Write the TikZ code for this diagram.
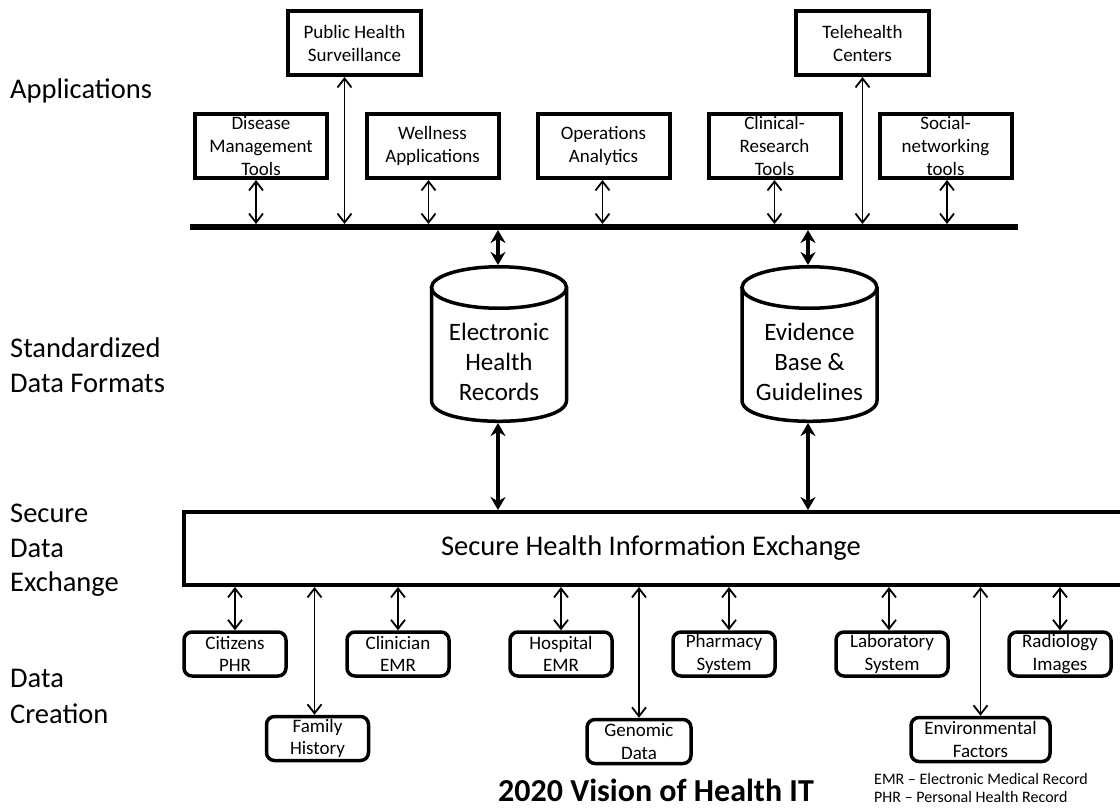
\documentclass[tikz,border=0pt]{standalone}
\usepackage{fontspec}
\setmainfont{Carlito}
\usetikzlibrary{arrows.meta}
\tikzset{
  appbox/.style={draw, line width=4pt, fill=white, inner sep=0pt, align=center,
    font=\fontsize{19}{23}\selectfont, minimum width=132pt, minimum height=64pt},
  databox/.style={draw, line width=3.5pt, rounded corners=8pt, fill=white, inner sep=0pt, align=center,
    font=\fontsize{19}{22.5}\selectfont, minimum width=102pt, minimum height=44pt},
  thinarrow/.style={line width=1.8pt, {Straight Barb[length=9pt,width=14pt]}-{Straight Barb[length=9pt,width=14pt]}},
  thickarrow/.style={line width=4pt, {Stealth[length=13pt,width=15pt]}-{Stealth[length=13pt,width=15pt]}},
  layerlabel/.style={anchor=base west, inner sep=0pt, font=\fontsize{28.5}{35}\selectfont},
  cyl/.style={line width=3.5pt, fill=white},
  cyltext/.style={align=center, inner sep=0pt, font=\fontsize{25}{30}\selectfont},
}
\begin{document}
\begin{tikzpicture}[x=1pt,y=-1pt]
\useasboundingbox (0,0) rectangle (1120,811);
\clip (0,0) rectangle (1120,811);

% layer labels
\node[layerlabel] (lapp) at (10,98) {Applications};
\node[layerlabel] (lsdf1) at (10,357) {Standardized};
\node[layerlabel] (lsdf2) at (10,392) {Data Formats};
\node[layerlabel] (lsde1) at (10,522) {Secure};
\node[layerlabel] (lsde2) at (10,557) {Data};
\node[layerlabel] (lsde3) at (10,591) {Exchange};
\node[layerlabel] (ldc1) at (10,687) {Data};
\node[layerlabel] (ldc2) at (10,723) {Creation};

% application boxes
\node[appbox, minimum width=133pt] (phs) at (354.5,43) {Public Health\\Surveillance};
\node[appbox, minimum width=133pt] (tel) at (862.5,43) {Telehealth\\Centers};
\node[appbox] (dmt) at (261,146) {Disease\\Management\\Tools};
\node[appbox] (wel) at (432.5,146) {Wellness\\Applications};
\node[appbox] (ops) at (603.5,146) {Operations\\Analytics};
\node[appbox] (crt) at (774.5,146) {Clinical-\\Research\\Tools};
\node[appbox] (snt) at (945.5,146) {Social-\\networking\\tools};

% bus
\node[fill=black, inner sep=0pt, outer sep=0pt, minimum width=828pt, minimum height=6pt] (bus) at (604,227) {};

% cylinders
\draw[cyl] (431.5,287.5) -- (431.5,400.5) .. controls (431.5,428.2) and (566.5,428.2) .. (566.5,400.5) -- (566.5,287.5);
\draw[cyl] (499,287.5) ellipse [x radius=67.5, y radius=20.75];
\node[cyltext] (ehr) at (499,362) {Electronic\\Health\\Records};
\coordinate (ehrtop) at (498,265);
\coordinate (ehrbot) at (498,423);

\draw[cyl] (742,287.5) -- (742,400.5) .. controls (742,428.2) and (877,428.2) .. (877,400.5) -- (877,287.5);
\draw[cyl] (809.5,287.5) ellipse [x radius=67.5, y radius=20.75];
\node[cyltext] (ebg) at (809.5,362) {Evidence\\Base \&\\Guidelines};
\coordinate (ebgtop) at (808,265);
\coordinate (ebgbot) at (808,423);

% secure HIE
\node[draw, line width=4pt, inner sep=0pt, minimum width=940pt, minimum height=73pt,
      font=\fontsize{28.5}{34}\selectfont] (hie) at (654,548.5) {\hspace*{-6pt}Secure Health Information Exchange};

% data creation boxes
\node[databox] (cphr) at (235,654) {Citizens\\PHR};
\node[databox] (cemr) at (398,654) {Clinician\\EMR};
\node[databox] (hemr) at (561,654) {Hospital\\EMR};
\node[databox] (phar) at (724,654) {Pharmacy\\System};
\node[databox, minimum width=112pt] (lab) at (892,654) {Laboratory\\System};
\node[databox] (rad) at (1060,654) {Radiology\\Images};
\node[databox] (fam) at (317.5,738.5) {Family\\History};
\node[databox, minimum width=104pt] (gen) at (639,741.5) {Genomic\\Data};
\node[databox, minimum width=139pt] (env) at (980.5,739.5) {Environmental\\Factors};

% title and footnote
\node[anchor=base, inner sep=0pt, font=\bfseries\fontsize{32}{38}\selectfont] (title) at (656,801) {2020 Vision of Health IT};
\node[anchor=base west, inner sep=0pt, font=\fontsize{16}{18}\selectfont] (fn1) at (874,784) {EMR – Electronic Medical Record};
\node[anchor=base west, inner sep=0pt, font=\fontsize{16}{18}\selectfont] (fn2) at (874,802) {PHR – Personal Health Record};

% application connectors
\draw[thinarrow] ([xshift=-5pt]dmt.south) -- ([xshift=-5pt]dmt.south |- bus.north);
\draw[thinarrow] ([xshift=-10pt]phs.south) -- ([xshift=-10pt]phs.south |- bus.north);
\draw[thinarrow] ([xshift=-4pt]wel.south) -- ([xshift=-4pt]wel.south |- bus.north);
\draw[thinarrow] ([xshift=-1pt]ops.south) -- ([xshift=-1pt]ops.south |- bus.north);
\draw[thinarrow] (crt.south) -- (crt.south |- bus.north);
\draw[thinarrow] (tel.south) -- (tel.south |- bus.north);
\draw[thinarrow] ([xshift=1.5pt]snt.south) -- ([xshift=1.5pt]snt.south |- bus.north);

% thick connectors
\draw[thickarrow] (bus.south -| ehrtop) -- (ehrtop);
\draw[thickarrow] (bus.south -| ebgtop) -- (ebgtop);
\draw[thickarrow] (ehrbot) -- (ehrbot |- hie.north);
\draw[thickarrow] (ebgbot) -- (ebgbot |- hie.north);

% data creation connectors
\draw[thinarrow] (cphr.north |- hie.south) -- (cphr.north);
\draw[thinarrow] (cemr.north |- hie.south) -- (cemr.north);
\draw[thinarrow] (hemr.north |- hie.south) -- (hemr.north);
\draw[thinarrow] ([xshift=5pt]phar.north |- hie.south) -- ([xshift=5pt]phar.north);
\draw[thinarrow] ([xshift=-3pt]lab.north |- hie.south) -- ([xshift=-3pt]lab.north);
\draw[thinarrow] (rad.north |- hie.south) -- (rad.north);
\draw[thinarrow] ([xshift=-3pt]fam.north |- hie.south) -- ([xshift=-3pt]fam.north);
\draw[thinarrow] (gen.north |- hie.south) -- (gen.north);
\draw[thinarrow] (env.north |- hie.south) -- (env.north);
\end{tikzpicture}
\end{document}
